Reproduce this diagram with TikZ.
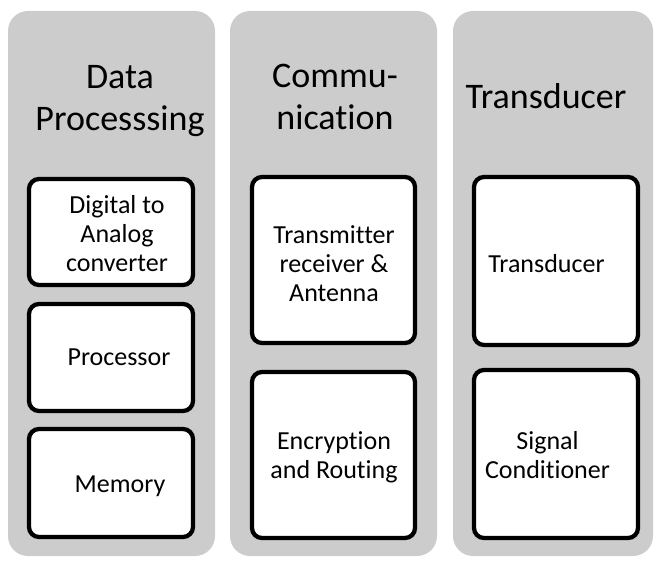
\documentclass[tikz,border=0pt]{standalone}
\usepackage{fontspec}
\setmainfont{Carlito}[Ligatures=NoCommon]
\usetikzlibrary{fit}
\definecolor{colgray}{RGB}{204,204,204}
\begin{document}
\begin{tikzpicture}[x=0.75pt,y=-0.75pt,
  column/.style={fill=colgray, draw=none, rounded corners=15pt, inner sep=0pt, outer sep=0pt},
  box/.style={draw=black, line width=3.2pt, fill=white, rounded corners=7.5pt, inner sep=0pt, outer sep=0pt},
  title/.style={font=\fontsize{27}{31.5}\selectfont, align=center, inner sep=0pt},
  label/.style={font=\fontsize{19.5}{22}\selectfont, align=center, inner sep=0pt}]
\useasboundingbox (0,0) rectangle (655,560);
% columns
\node[column, fit={(8,11) (215,556)}] (c1) {};
\node[column, fit={(230,11) (437,556)}] (c2) {};
\node[column, fit={(453,11) (653,556)}] (c3) {};
% titles
\node[title] (t1) at (120,101) {Data\\Processsing};
\node[title] (t2) at (335,97) {Commu-\\nication};
\node[title] (t3) at (546,96) {Transducer};
% boxes column 1
\node[box, fit={(29,179) (193,285)}] (dac) {};
\node[box, fit={(29,304) (193,411)}] (proc) {};
\node[box, fit={(29,429) (193,537)}] (mem) {};
% boxes column 2
\node[box, fit={(252,177) (415,343)}] (trx) {};
\node[box, fit={(252,372) (415,538)}] (enc) {};
% boxes column 3
\node[box, fit={(474,177) (638,345)}] (tdc) {};
\node[box, fit={(474,370) (638,538)}] (sig) {};
% labels
\node[label] (ldac) at (117,233.5) {Digital to\\Analog\\converter};
\node[label] (lproc) at (119,357.5) {Processor};
\node[label] (lmem) at (120,486) {Memory};
\node[label] (ltrx) at (334,263.5) {Transmitter\\receiver \&\\Antenna};
\node[label] (lenc) at (334,457) {Encryption\\and Routing};
\node[label] (ltdc) at (546.5,263.5) {Transducer};
\node[label] (lsig) at (547.5,455) {Signal\\Conditioner};
\end{tikzpicture}
\end{document}
